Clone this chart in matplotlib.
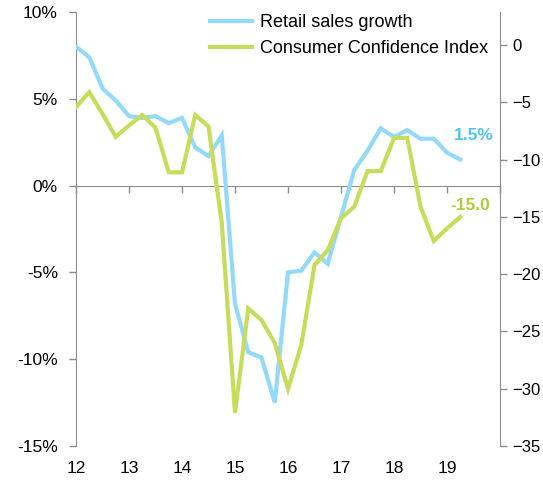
import matplotlib
matplotlib.use("Agg")
import matplotlib.pyplot as plt
import matplotlib.transforms as mtransforms
import numpy as np

plt.rcParams['font.family'] = ['Liberation Sans', 'DejaVu Sans']

# quarterly data, 2012 Q1 to 2019 Q2
start_year = 12
retail = [8.0, 7.4, 5.6, 4.9, 4.0, 3.9, 4.0, 3.6, 3.9, 2.2, 1.7, 2.9,
          -6.8, -9.6, -9.9, -12.5, -5.0, -4.9, -3.85, -4.5, -1.8, 0.9,
          2.0, 3.3, 2.8, 3.2, 2.7, 2.7, 1.9, 1.5]
cci = [-5.4, -4.1, -6.0, -8.0, -7.0, -6.1, -7.2, -11.1, -11.1, -6.1, -7.1, -15.5,
       -32.1, -23.0, -24.0, -26.0, -30.0, -26.2, -19.2, -17.9, -15.1, -14.1,
       -11.0, -11.0, -8.1, -8.1, -14.1, -17.1, -16.0, -15.0]
year_labels = ['12', '13', '14', '15', '16', '17', '18', '19']
left_ticks = [10, 5, 0, -5, -10, -15]
right_ticks = [0, -5, -10, -15, -20, -25, -30, -35]

blue = '#93daf8'
green = '#c8dc5c'
blue_txt = '#52c2f0'
green_txt = '#b2ca3c'
grey = '#8c8c8c'

x = start_year + np.arange(len(retail)) / 4.0

fig = plt.figure(figsize=(5.43, 4.8), dpi=100)
ax = fig.add_axes([76/543, 34/480, 424/543, 434/480])
ax2 = ax.twinx()

l1, = ax.plot(x, retail, color=blue, lw=3, solid_joinstyle='miter', zorder=3)
l2, = ax2.plot(x, cci, color=green, lw=3, solid_joinstyle='miter', zorder=3)

ax.set_xlim(start_year, start_year + 8)
ax.set_ylim(-15, 10)
ax2.set_ylim(-35, 2.9)

# left axis
ax.set_yticks(left_ticks)
ax.set_yticklabels([f'{t}%' for t in left_ticks])
ax.spines['top'].set_visible(False)
ax.spines['right'].set_visible(False)
ax.spines['left'].set_color(grey)
ax.spines['bottom'].set_position(('data', 0))
ax.spines['bottom'].set_color(grey)
ax.tick_params(axis='y', direction='out', length=5, width=1, color=grey,
               labelsize=12.5, pad=8)
ax.set_xticks(np.arange(start_year, start_year + 9))
ax.tick_params(axis='x', direction='out', length=5, width=1, color=grey,
               labelbottom=False)

# x labels sit under the plot, not on the zero line
trans = mtransforms.blended_transform_factory(ax.transData, ax.transAxes)
for i, lab in enumerate(year_labels):
    ax.text(start_year + i, -0.052, lab, transform=trans, ha='center',
            va='center', fontsize=12.5)

# right axis
ax2.set_yticks(right_ticks)
for s in ['top', 'left', 'bottom']:
    ax2.spines[s].set_visible(False)
ax2.spines['right'].set_color(grey)
ax2.tick_params(axis='y', direction='out', length=5, width=1, color=grey,
                labelsize=12, pad=4)

# end labels
ax.annotate(f'{retail[-1]}%', (x[-1], retail[-1]), xytext=(10, 17),
            textcoords='offset points', ha='center', va='center',
            fontsize=12.5, fontweight='bold', color=blue_txt)
ax2.annotate(f'{cci[-1]:.1f}', (x[-1], cci[-1]), xytext=(7, 8),
             textcoords='offset points', ha='center', va='center',
             fontsize=12.5, fontweight='bold', color=green_txt)

fig.legend([l1, l2], ['Retail sales growth', 'Consumer Confidence Index'],
           loc='upper left', bbox_to_anchor=(194/543, 1.005), frameon=False,
           fontsize=13, handlelength=2.3, handletextpad=0.45, labelspacing=0.5)

fig.savefig('out.png', dpi=100)
